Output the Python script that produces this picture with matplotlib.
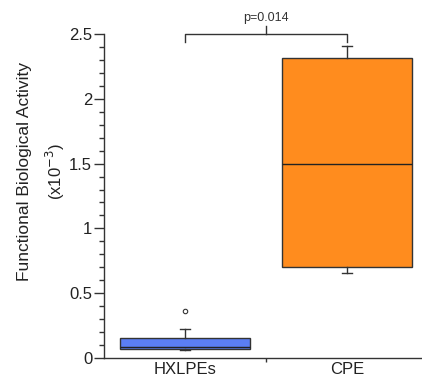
import matplotlib
matplotlib.use("Agg")
import matplotlib.pyplot as plt
from matplotlib.ticker import MultipleLocator, FixedLocator, NullFormatter
from matplotlib.transforms import offset_copy

plt.rcParams['font.family'] = ['Liberation Sans', 'DejaVu Sans']

# Box summary values (units of 1e-3)
categories = ["HXLPEs", "CPE"]
q1 = [0.070, 0.705]
medians = [0.087, 1.496]
q3 = [0.157, 2.311]
whisker_low = [0.064, 0.654]
whisker_high = [0.226, 2.405]
outliers = [[0.365], []]
box_colors = ["#5B7EF4", "#FF8C1E"]
p_text = "p=0.014"

fig = plt.figure(figsize=(4.22, 3.76), dpi=100)
ax = fig.add_axes([0.2464, 0.0479, 0.768, 0.8617])

stats = []
for i, name in enumerate(categories):
    stats.append(dict(label=name, med=medians[i], q1=q1[i], q3=q3[i],
                      whislo=whisker_low[i], whishi=whisker_high[i],
                      fliers=outliers[i]))

positions = [1, 2]
bp = ax.bxp(stats, positions=positions, widths=0.8, patch_artist=True,
            showfliers=True, manage_ticks=False,
            boxprops=dict(edgecolor="#333333", linewidth=1.0),
            medianprops=dict(color="#222222", linewidth=1.0),
            whiskerprops=dict(color="#333333", linewidth=1.0),
            capprops=dict(color="#333333", linewidth=1.0),
            capwidths=0.06,
            flierprops=dict(marker="o", markersize=3.2, markerfacecolor="white",
                            markeredgecolor="#333333", markeredgewidth=0.8))
for patch, c in zip(bp["boxes"], box_colors):
    patch.set_facecolor(c)

ax.set_xlim(0.5, 2.5)
ax.set_ylim(0, 2.5)

for s in ("top", "right"):
    ax.spines[s].set_visible(False)
for s in ("left", "bottom"):
    ax.spines[s].set_color("#333333")
    ax.spines[s].set_linewidth(1.0)

# y axis ticks
ax.yaxis.set_minor_locator(MultipleLocator(0.1))
ax.set_yticks([0, 0.5, 1, 1.5, 2, 2.5])
ax.set_yticklabels(["0", "0.5", "1", "1.5", "2", "2.5"])
ax.tick_params(axis="y", which="major", length=7, width=1.0, color="#333333",
               labelsize=12, labelcolor="#222222", pad=1.5)
ax.tick_params(axis="y", which="minor", length=3.5, width=1.0, color="#333333")

# x axis: separator tick between groups, category labels without ticks
ax.xaxis.set_major_locator(FixedLocator([1.5]))
ax.xaxis.set_major_formatter(NullFormatter())
ax.tick_params(axis="x", which="major", length=3, width=1.0, color="#333333")
label_tf = offset_copy(ax.get_xaxis_transform(), fig=fig, x=0, y=-3, units="points")
for pos, name in zip(positions, categories):
    ax.text(pos, 0, name, ha="center", va="top", fontsize=12,
            color="#222222", transform=label_tf)

ax.text(-0.245, 0.575, "Functional Biological Activity", rotation=90,
        ha="center", va="center", fontsize=12.5, color="#222222",
        transform=ax.transAxes)
ax.text(-0.150, 0.575, r"(x10$^{-3}$)", rotation=90,
        ha="center", va="center", fontsize=12, color="#222222",
        transform=ax.transAxes)

# significance bracket
y_bar = 2.50
ax.plot([1, 1, 2, 2], [y_bar - 0.065, y_bar, y_bar, y_bar - 0.065],
        color="#333333", linewidth=1.0, clip_on=False)
ax.plot([1.5, 1.5], [y_bar, y_bar + 0.06], color="#333333", linewidth=1.0,
        clip_on=False)
ax.text(1.5, y_bar + 0.075, p_text, ha="center", va="bottom", fontsize=9,
        color="#333333")

fig.savefig("out.png", dpi=100)
